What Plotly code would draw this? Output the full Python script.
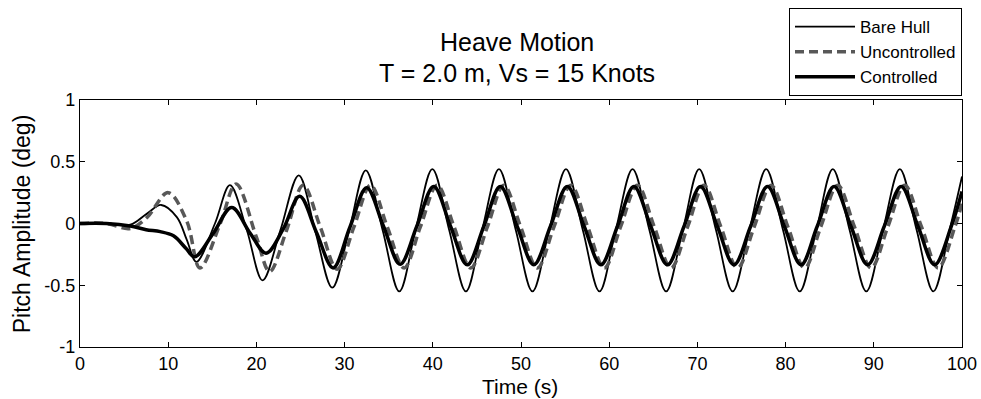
import plotly.graph_objects as go

# Key points (drawn with spline smoothing by plotly)
bare_t = [0, 3, 5.7, 7.6, 9.2, 11.0, 12.1, 13.2, 15.3, 17.0, 18.9, 20.7, 22.7, 24.8, 26.7, 28.6,
          30.5, 32.4, 34.3, 36.2, 38.05, 39.95, 41.85, 43.75, 45.6, 47.5, 49.4, 51.3, 53.2, 55.1,
          57.0, 58.9, 60.75, 62.65, 64.55, 66.45, 68.35, 70.2, 72.1, 74.0, 75.9, 77.8, 79.7, 81.6,
          83.5, 85.35, 87.25, 89.15, 91.05, 92.95, 94.85, 96.75, 98.6, 100]
bare_y = [0.0, 0.0, -0.01, 0.08, 0.15, 0.05, -0.13, -0.31, 0.0, 0.31, -0.05, -0.46, -0.06, 0.39, -0.07, -0.52,
          -0.06, 0.43, -0.05, -0.55, -0.05, 0.44, -0.05, -0.55, -0.05, 0.44, -0.05, -0.55, -0.05, 0.44,
          -0.05, -0.55, -0.05, 0.44, -0.05, -0.55, -0.05, 0.44, -0.05, -0.55, -0.05, 0.44, -0.05, -0.55,
          -0.05, 0.44, -0.05, -0.55, -0.05, 0.44, -0.05, -0.55, -0.05, 0.38]

unc_t = [0, 3, 5.7, 7.6, 10.0, 12.1, 13.6, 15.9, 17.7, 20.0, 21.5, 23.4, 25.3, 27.25, 29.15,
         31.05, 32.95, 34.85, 36.75, 38.6, 40.5, 42.4, 44.3, 46.2, 48.05, 49.95, 51.85, 53.75, 55.65,
         57.55, 59.45, 61.3, 63.2, 65.1, 67.0, 68.9, 70.75, 72.65, 74.55, 76.45, 78.35, 80.25, 82.15,
         84.0, 85.9, 87.8, 89.7, 91.6, 93.5, 95.4, 97.3, 99.2, 100]
unc_y = [0.0, 0.0, -0.04, 0.05, 0.25, 0.02, -0.36, 0.0, 0.32, -0.11, -0.39, -0.06, 0.31, -0.03, -0.37,
         -0.03, 0.31, -0.03, -0.36, -0.025, 0.31, -0.025, -0.36, -0.025, 0.31, -0.025, -0.36, -0.025, 0.31,
         -0.025, -0.36, -0.025, 0.31, -0.025, -0.36, -0.025, 0.31, -0.025, -0.36, -0.025, 0.31, -0.025, -0.36,
         -0.025, 0.31, -0.025, -0.36, -0.025, 0.31, -0.025, -0.36, -0.025, 0.16]

ctl_t = [0, 3, 5.7, 7.5, 9.1, 10.6, 12.0, 13.0, 15.1, 17.2, 19.3, 21.1, 23.0, 24.9, 26.8, 28.7,
         30.6, 32.5, 34.4, 36.3, 38.2, 40.1, 42.0, 43.9, 45.8, 47.65, 49.55, 51.45, 53.35, 55.25,
         57.15, 59.05, 60.95, 62.8, 64.7, 66.6, 68.5, 70.35, 72.25, 74.15, 76.05, 77.95, 79.85, 81.75,
         83.6, 85.5, 87.4, 89.3, 91.2, 93.1, 95.0, 96.9, 98.8, 100]
ctl_y = [0.0, 0.0, -0.02, -0.05, -0.066, -0.10, -0.2, -0.27, -0.08, 0.13, -0.08, -0.24, -0.05, 0.22, -0.07, -0.36,
         -0.03, 0.29, -0.02, -0.33, -0.02, 0.30, -0.02, -0.335, -0.02, 0.30, -0.02, -0.335, -0.02, 0.30,
         -0.02, -0.335, -0.02, 0.30, -0.02, -0.335, -0.02, 0.30, -0.02, -0.335, -0.02, 0.30, -0.02, -0.335,
         -0.02, 0.30, -0.02, -0.335, -0.02, 0.30, -0.02, -0.335, -0.02, 0.26]

x_ticks = [0, 10, 20, 30, 40, 50, 60, 70, 80, 90, 100]
x_labels = ["0", "10", "20", "30", "40", "50", "60", "70", "80", "90", "100"]
y_ticks = [-1, -0.5, 0, 0.5, 1]
y_labels = ["-1", "-0.5", "0", "0.5", "1"]

title_line1 = "Heave Motion"
title_line2 = "T = 2.0 m, Vs = 15 Knots"
x_title = "Time (s)"
y_title = "Pitch Amplitude (deg)"

FONT = "Liberation Sans, Arial, sans-serif"

fig = go.Figure()
fig.add_trace(go.Scatter(x=bare_t, y=bare_y, mode="lines", name="Bare Hull",
                         line=dict(color="black", width=1.8, shape="spline", smoothing=1.0)))
fig.add_trace(go.Scatter(x=unc_t, y=unc_y, mode="lines", name="Uncontrolled",
                         line=dict(color="#585858", width=3.5, dash="9px,5px", shape="spline", smoothing=1.0)))
fig.add_trace(go.Scatter(x=ctl_t, y=ctl_y, mode="lines", name="Controlled",
                         line=dict(color="black", width=3.5, shape="spline", smoothing=1.0)))

axis_common = dict(showline=True, linecolor="black", linewidth=1.4, mirror="ticks",
                   ticks="inside", ticklen=5, tickcolor="black", showgrid=False, zeroline=False,
                   tickfont=dict(family=FONT, size=18, color="black"))

fig.update_layout(
    width=981, height=399,
    margin=dict(l=80, r=19, t=100, b=52, autoexpand=False),
    paper_bgcolor="white", plot_bgcolor="white",
    font=dict(family=FONT, size=18, color="black"),
    xaxis=dict(range=[0, 100], tickvals=x_ticks, ticktext=x_labels, **axis_common),
    yaxis=dict(range=[-1, 1], tickvals=y_ticks, ticktext=y_labels, **axis_common),
    legend=dict(x=1, xanchor="right", xref="paper", y=0.98, yanchor="top", yref="container",
                bgcolor="white", bordercolor="black", borderwidth=1, itemwidth=60,
                font=dict(family=FONT, size=17, color="black"), tracegroupgap=0),
    annotations=[
        dict(text=title_line1, xref="paper", yref="paper", x=0.495, y=1.233, xanchor="center",
             yanchor="middle", showarrow=False, font=dict(family=FONT, size=25, color="black")),
        dict(text=title_line2, xref="paper", yref="paper", x=0.495, y=1.111, xanchor="center",
             yanchor="middle", showarrow=False, font=dict(family=FONT, size=25, color="black")),
        dict(text=x_title, xref="paper", yref="paper", x=0.499, y=-0.158, xanchor="center",
             yanchor="middle", showarrow=False, font=dict(family=FONT, size=21, color="black")),
        dict(text=y_title, xref="paper", yref="paper", x=-0.066, y=0.5, xanchor="center",
             yanchor="middle", textangle=-90, showarrow=False, font=dict(family=FONT, size=23, color="black")),
    ],
)

fig.write_html("out.html")
